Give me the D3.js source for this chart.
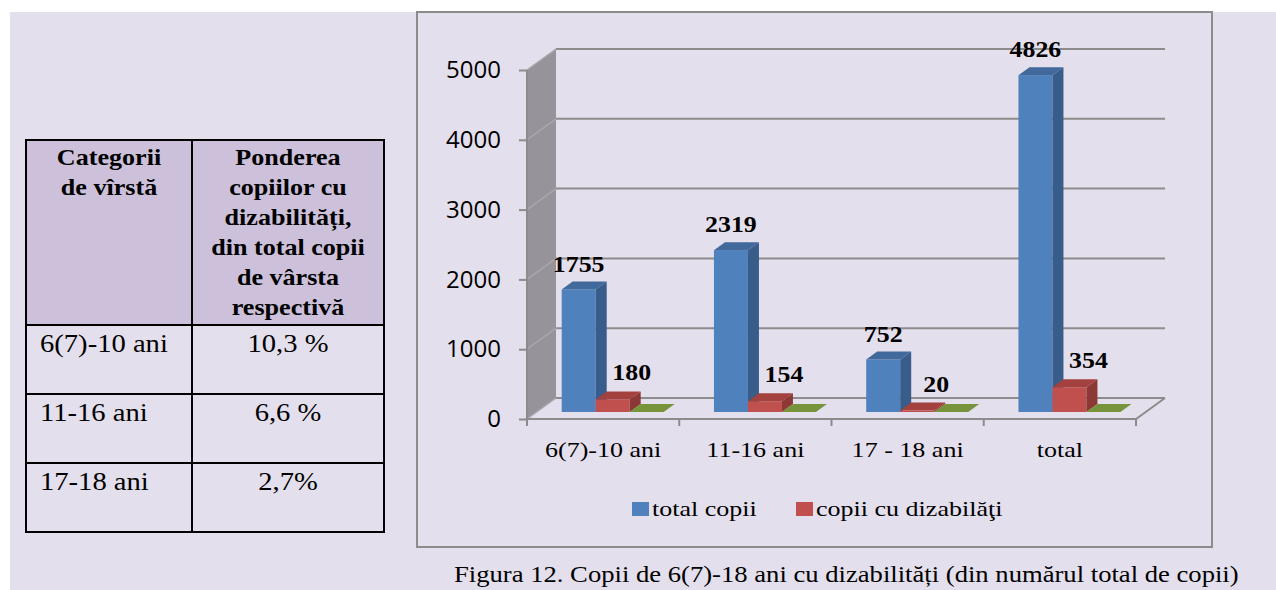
<!DOCTYPE html>
<html>
<head>
<meta charset="utf-8">
<script src="https://cdn.jsdelivr.net/npm/d3@7"></script>
<style>
  html, body { margin: 0; padding: 0; background: #fff; }
  svg { display: block; }
</style>
</head>
<body>
<svg id="fig" width="1276" height="590"></svg>
<script>
// chart data
const categories = ["6(7)-10 ani", "11-16 ani", "17 - 18 ani", "total"];
const totalCopii = [1755, 2319, 752, 4826];
const copiiCuDiz = [180, 154, 20, 354];
const seria3 = [0, 0, 0, 0];
const yTicks = [0, 1000, 2000, 3000, 4000, 5000];
const legendNames = ["total copii", "copii cu dizabilăţi"];

// table data
const headCol1 = ["Categorii", "de vîrstă"];
const headCol2 = ["Ponderea", "copiilor cu", "dizabilități,", "din total copii", "de vârsta", "respectivă"];
const tableAges = ["6(7)-10 ani", "11-16 ani", "17-18 ani"];
const tableShares = ["10,3 %", "6,6 %", "2,7%"];

const caption = "Figura 12. Copii de 6(7)-18 ani cu dizabilități (din numărul total de copii)";

const lav = "#e4dfec";
const grid = "#8c8c8c";
const serif = "'Liberation Serif', 'Times New Roman', serif";

const svg = d3.select("#fig");

// helper for horizontally stretched text (the original figure is stretched)
function txt(g, x, y, s, size, opts) {
  opts = opts || {};
  return g.append("text")
    .attr("transform", `translate(${x},${y}) scale(${opts.sx || 1},1)`)
    .attr("text-anchor", opts.anchor || "start")
    .attr("font-family", opts.family || serif)
    .attr("font-weight", opts.bold ? "bold" : "normal")
    .attr("font-size", size)
    .attr("fill", "#000")
    .text(s);
}

// page background
svg.append("rect").attr("x", 10).attr("y", 12).attr("width", 1266).attr("height", 578).attr("fill", lav);

// ---------- table ----------
const tg = svg.append("g");
const tx0 = 26, tx1 = 192, tx2 = 384;
const tyHead = 140, tyBody = 325, rowH = 69;

tg.append("rect").attr("x", tx0).attr("y", tyHead).attr("width", tx2 - tx0).attr("height", tyBody - tyHead)
  .attr("fill", "#ccc0da");

headCol1.forEach((s, i) => txt(tg, (tx0 + tx1) / 2, 165 + i * 30, s, 22.5, { bold: true, anchor: "middle", sx: 1.16 }));
headCol2.forEach((s, i) => txt(tg, (tx1 + tx2) / 2, 165 + i * 30, s, 22.5, { bold: true, anchor: "middle", sx: 1.16 }));

tableAges.forEach((s, i) => {
  txt(tg, 40, tyBody + i * rowH + 27, s, 26, { sx: 1.1 });
  txt(tg, (tx1 + tx2) / 2, tyBody + i * rowH + 27, tableShares[i], 26, { anchor: "middle", sx: 1.1 });
});

// grid lines of the table
const tyEnd = tyBody + tableAges.length * rowH;
[tyHead, tyBody].concat(tableAges.map((d, i) => tyBody + (i + 1) * rowH)).forEach(y =>
  tg.append("line").attr("x1", tx0).attr("x2", tx2).attr("y1", y).attr("y2", y)
    .attr("stroke", "#000").attr("stroke-width", 2));
[tx0, tx1, tx2].forEach(x =>
  tg.append("line").attr("x1", x).attr("x2", x).attr("y1", tyHead - 1).attr("y2", tyEnd + 1)
    .attr("stroke", "#000").attr("stroke-width", 2));

// ---------- chart ----------
const cg = svg.append("g");
cg.append("rect").attr("x", 417).attr("y", 12).attr("width", 795).attr("height", 535)
  .attr("fill", lav).attr("stroke", grid).attr("stroke-width", 2);

const y = d3.scaleLinear().domain([0, 5000]).range([419, 70]);
const x = d3.scaleBand().domain(categories).range([527, 1136]);
const wall = { dx: 29, dy: -21 };     // depth of the back wall
const barOff = { dx: 0, dy: -7 };     // bars stand a bit behind the front edge
const depth = { dx: 11, dy: -8 };     // depth of each bar
const series = [
  { name: legendNames[0], values: totalCopii, front: "#4f81bd", side: "#385d8a", top: "#41699b" },
  { name: legendNames[1], values: copiiCuDiz, front: "#c0504d", side: "#8c3836", top: "#a3413e" },
  { name: "", values: seria3, front: "#77933c", side: "#5a702c", top: "#77933c" }
];
const inner = d3.scaleBand().domain(series.map((s, i) => i)).range([34.7, 136.7]);

const yMax = y.domain()[1];

// left wall
cg.append("polygon")
  .attr("points", [[x.range()[0], y(0)], [x.range()[0] + wall.dx, y(0) + wall.dy],
                   [x.range()[0] + wall.dx, y(yMax) + wall.dy], [x.range()[0], y(yMax)]].join(" "))
  .attr("fill", "#96939b");

// floor
const fx0 = x.range()[0], fx1 = x.range()[1];
cg.append("polygon")
  .attr("points", [[fx0, y(0)], [fx1, y(0)], [fx1 + wall.dx, y(0) + wall.dy], [fx0 + wall.dx, y(0) + wall.dy]].join(" "))
  .attr("fill", lav);

// back wall grid lines and their diagonals on the left wall
yTicks.forEach(t => {
  cg.append("line")
    .attr("x1", fx0 + wall.dx).attr("x2", fx1 + wall.dx)
    .attr("y1", y(t) + wall.dy).attr("y2", y(t) + wall.dy)
    .attr("stroke", grid).attr("stroke-width", 2);
  cg.append("line")
    .attr("x1", fx0).attr("x2", fx0 + wall.dx)
    .attr("y1", y(t)).attr("y2", y(t) + wall.dy)
    .attr("stroke", "#a9a6ae").attr("stroke-width", 1.5);
});

// front edge of the wall and floor
cg.append("line").attr("x1", fx0).attr("x2", fx0).attr("y1", y(yMax)).attr("y2", y(0))
  .attr("stroke", grid).attr("stroke-width", 2);
cg.append("polyline")
  .attr("points", [[fx0, y(0)], [fx1, y(0)], [fx1 + wall.dx, y(0) + wall.dy]].join(" "))
  .attr("fill", "none").attr("stroke", grid).attr("stroke-width", 2);

// y axis ticks and labels
const yAxisG = cg.append("g").attr("transform", `translate(${fx0},0)`)
  .call(d3.axisLeft(y).tickValues(yTicks).tickSize(8).tickPadding(18).tickFormat(d3.format("d")));
yAxisG.select(".domain").remove();
yAxisG.selectAll(".tick line").attr("stroke", grid).attr("stroke-width", 2);
yAxisG.selectAll(".tick text").attr("font-family", "'Open Sans', sans-serif").attr("font-size", 24).attr("fill", "#000");

// x axis tick marks at category boundaries
const xBounds = categories.map(c => x(c)).concat([fx1]);
xBounds.forEach(b =>
  cg.append("line").attr("x1", b).attr("x2", b).attr("y1", y(0)).attr("y2", y(0) + 7)
    .attr("stroke", grid).attr("stroke-width", 2));
categories.forEach(c =>
  txt(cg, x(c) + x.bandwidth() / 2, 457, c, 21, { anchor: "middle", sx: 1.24 }));

// 3D bars
const yBar = v => y(v) + barOff.dy;
const w = inner.bandwidth();
categories.forEach((c, ci) => {
  series.forEach((s, si) => {
    const v = s.values[ci];
    const x0 = x(c) + inner(si) + barOff.dx;
    const yt = yBar(v), yb = yBar(0);
    const bg = cg.append("g");
    bg.append("rect").attr("x", x0).attr("y", yt).attr("width", w).attr("height", yb - yt).attr("fill", s.front);
    bg.append("polygon")
      .attr("points", [[x0 + w, yb], [x0 + w + depth.dx, yb + depth.dy], [x0 + w + depth.dx, yt + depth.dy], [x0 + w, yt]].join(" "))
      .attr("fill", s.side);
    bg.append("polygon")
      .attr("points", [[x0, yt], [x0 + depth.dx, yt + depth.dy], [x0 + w + depth.dx, yt + depth.dy], [x0 + w, yt]].join(" "))
      .attr("fill", s.top);
  });
});

// value labels
categories.forEach((c, ci) => {
  const xb = x(c) + inner(0) + w / 2;
  txt(cg, xb, yBar(totalCopii[ci]) - 18, totalCopii[ci], 23.5, { bold: true, anchor: "middle", sx: 1.1 });
  const xr = x(c) + inner(1) + w / 2 + 19;
  txt(cg, xr, yBar(copiiCuDiz[ci]) - 19, copiiCuDiz[ci], 23.5, { bold: true, anchor: "middle", sx: 1.1 });
});

// legend
const legX = [632, 796];
series.slice(0, 2).forEach((s, i) => {
  cg.append("rect").attr("x", legX[i]).attr("y", 502).attr("width", 17).attr("height", 14).attr("fill", s.front);
  txt(cg, legX[i] + 20, 516, s.name, 21, { sx: 1.24 });
});

// caption
txt(svg, 454, 582, caption, 24, { sx: 1.11 });
</script>
</body>
</html>
